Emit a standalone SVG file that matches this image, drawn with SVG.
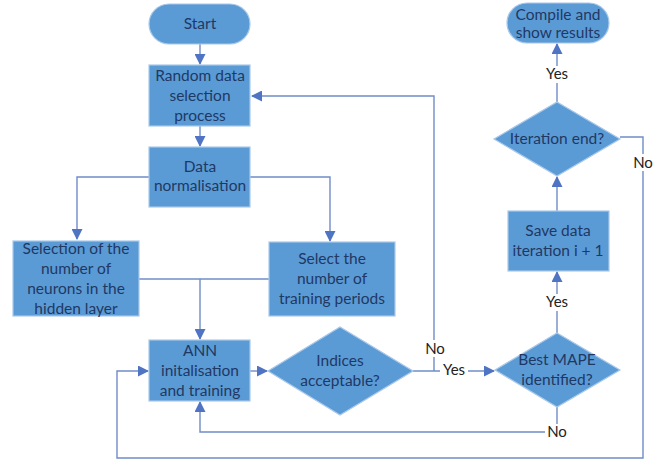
<svg xmlns="http://www.w3.org/2000/svg" width="665" height="461" viewBox="0 0 665 461">
<style>
.n{fill:#5b9bd5;stroke:#a9c8ea;stroke-width:1.2}
.t{font-family:Lato,"Open Sans",sans-serif;font-size:15.5px;fill:#1f3864;text-anchor:middle}
.l{font-family:Lato,"Open Sans",sans-serif;font-size:15px;fill:#222;text-anchor:middle}
.c{fill:none;stroke:#6f8cc8;stroke-width:1.4}
.bg{fill:#fff}
</style>
<defs>
<marker id="a" markerWidth="11" markerHeight="11" refX="10" refY="5.5" orient="auto" markerUnits="userSpaceOnUse">
<path d="M0,0 L11,5.5 L0,11 z" fill="#4f74c4"/>
</marker>
</defs>
<rect width="665" height="461" fill="#fff"/>
<g id="connectors">
<path class="c" d="M200,44 V64" marker-end="url(#a)"/>
<path class="c" d="M200,126 V146" marker-end="url(#a)"/>
<path class="c" d="M149,177 H77 V239" marker-end="url(#a)"/>
<path class="c" d="M250,177 H330 V241" marker-end="url(#a)"/>
<path class="c" d="M139,279 H269"/>
<path class="c" d="M200,279 V339" marker-end="url(#a)"/>
<path class="c" d="M250,371 H267" marker-end="url(#a)"/>
<path class="c" d="M413,371 H494" marker-end="url(#a)"/>
<path class="c" d="M434,371 V96 H252" marker-end="url(#a)"/>
<path class="c" d="M557,407 V432 H200 V402" marker-end="url(#a)"/>
<path class="c" d="M557,333 V272" marker-end="url(#a)"/>
<path class="c" d="M557,211 V177" marker-end="url(#a)"/>
<path class="c" d="M557,102 V44" marker-end="url(#a)"/>
<path class="c" d="M620,137 H643 V458 H117 V371 H148" marker-end="url(#a)"/>
</g>
<g id="labels">
<rect class="bg" x="424" y="340" width="22" height="17"/>
<text class="l" x="435" y="354">No</text>
<rect class="bg" x="440" y="362" width="28" height="17"/>
<text class="l" x="454" y="375">Yes</text>
<rect class="bg" x="545" y="424" width="24" height="17"/>
<text class="l" x="557" y="437">No</text>
<rect class="bg" x="543" y="294" width="28" height="17"/>
<text class="l" x="557" y="307">Yes</text>
<rect class="bg" x="543" y="66" width="28" height="17"/>
<text class="l" x="557" y="79">Yes</text>
<rect class="bg" x="632" y="154" width="22" height="17"/>
<text class="l" x="643" y="168">No</text>
</g>
<g id="start">
<rect class="n" x="149" y="4" width="101" height="40" rx="20"/>
<text class="t" x="200" y="29">Start</text>
</g>
<g id="random">
<rect class="n" x="149" y="65" width="101" height="61"/>
<text class="t" x="200" y="81">Random data</text>
<text class="t" x="200" y="101">selection</text>
<text class="t" x="200" y="121">process</text>
</g>
<g id="normalisation">
<rect class="n" x="149" y="147" width="101" height="60"/>
<text class="t" x="200" y="172">Data</text>
<text class="t" x="200" y="191">normalisation</text>
</g>
<g id="neurons">
<rect class="n" x="13" y="241" width="126" height="75"/>
<text class="t" x="76" y="254">Selection of the</text>
<text class="t" x="76" y="274">number of</text>
<text class="t" x="76" y="294">neurons in the</text>
<text class="t" x="76" y="314">hidden layer</text>
</g>
<g id="periods">
<rect class="n" x="269" y="242" width="126" height="74"/>
<text class="t" x="332" y="264">Select the</text>
<text class="t" x="332" y="284">number of</text>
<text class="t" x="332" y="304">training periods</text>
</g>
<g id="ann">
<rect class="n" x="149" y="340" width="101" height="61"/>
<text class="t" x="200" y="356">ANN</text>
<text class="t" x="200" y="376">initalisation</text>
<text class="t" x="200" y="396">and training</text>
</g>
<g id="indices">
<path class="n" d="M340,327 L413,371 L340,415 L268,371 z"/>
<text class="t" x="340" y="366">Indices</text>
<text class="t" x="340" y="386">acceptable?</text>
</g>
<g id="mape">
<path class="n" d="M557,333 L620,370 L557,407 L495,370 z"/>
<text class="t" x="557" y="365">Best MAPE</text>
<text class="t" x="557" y="385">identified?</text>
</g>
<g id="save">
<rect class="n" x="508" y="211" width="101" height="60"/>
<text class="t" x="558" y="236">Save data</text>
<text class="t" x="558" y="256">iteration i + 1</text>
</g>
<g id="iteration">
<path class="n" d="M557,102 L620,139 L557,176 L494,139 z"/>
<text class="t" x="557" y="144">Iteration end?</text>
</g>
<g id="compile">
<rect class="n" x="507" y="3" width="102" height="40" rx="20"/>
<text class="t" x="558" y="20">Compile and</text>
<text class="t" x="558" y="38">show results</text>
</g>
</svg>
